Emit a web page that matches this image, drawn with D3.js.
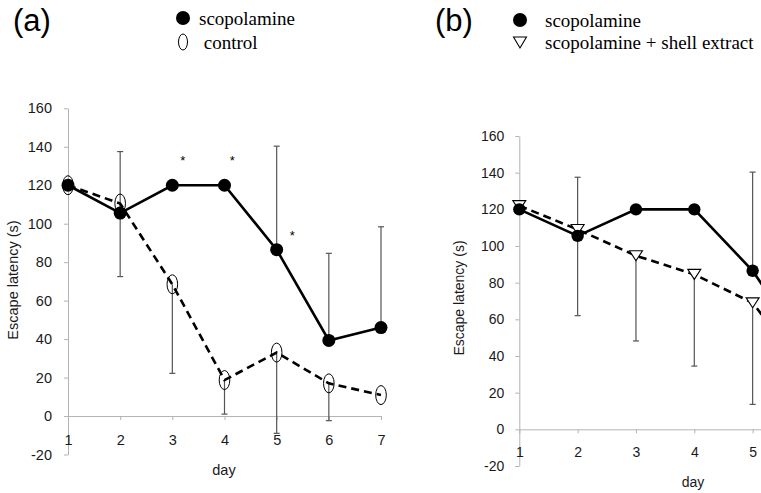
<!DOCTYPE html>
<html>
<head>
<meta charset="utf-8">
<script src="https://cdnjs.cloudflare.com/ajax/libs/d3/7.8.5/d3.min.js"></script>
<style>
  body { margin: 0; background: white; }
  svg { display: block; }
  .axis path, .axis line { stroke: #b3b3b3; stroke-width: 1; }
  .axis text { fill: #1a1a1a; }
</style>
</head>
<body>
<script>
var width = 761;
var height = 493;

var days = [1, 2, 3, 4, 5, 6, 7];
var yTicks = [-20, 0, 20, 40, 60, 80, 100, 120, 140, 160];

// scopolamine group (same in both panels), error bars drawn upward
var scopMean = [120, 105.5, 120, 120, 86.5, 39.3, 46];
var scopErrUp = [0, 32, 0, 0, 53.8, 45.3, 52.4];

// panel (a) control, error bars drawn downward
var controlMean = [120, 110.5, 68.5, 18.7, 33, 17, 10.9];
var controlErrDown = [0, 38, 46.3, 17.7, 42, 19.4, 0];

// panel (b) scopolamine + shell extract, error bars drawn downward
var shellMean = [122, 109, 94.7, 84.5, 69, 28, 22];
var shellErrDown = [0, 47, 46.5, 50, 55.4, 20, 15];

// significance stars in panel (a), in data units
var starDay = [3.2, 4.15, 5.3];
var starValue = [134, 134, 95];

var legendA = ["scopolamine", "\u00a0control"];
var legendB = ["scopolamine", "scopolamine + shell extract"];

var sansFont = "Liberation Sans";
var serifFont = "Liberation Serif";

const SVG = d3.select("body")
              .append("svg")
              .attr("width", width)
              .attr("height", height);

function makeSeries(mean, err, dir){
  return days.map(function(d, i){
    return {day: d, v: mean[i], e: err[i] * dir};
  });
}

function drawPanel(p){
  var x = d3.scaleLinear().domain([1, 7]).range(p.xRange);
  var y = d3.scaleLinear().domain([-20, 160]).range(p.yRange);
  var g = SVG.append("g");

  // axes
  g.append("g")
   .attr("class", "axis")
   .attr("transform", "translate(" + x(1) + ",0)")
   .call(d3.axisLeft(y).tickValues(yTicks).tickFormat((d) => String(d))
           .tickSize(4).tickSizeOuter(0).tickPadding(p.yPad))
   .attr("font-size", p.fontSize)
   .attr("font-family", sansFont);

  // only label the days that fall inside the picture
  g.append("g")
   .attr("class", "axis")
   .attr("transform", "translate(0," + y(0) + ")")
   .call(d3.axisBottom(x).tickValues(days.filter((d) => x(d) < width))
           .tickFormat(d3.format("d"))
           .tickSize(4).tickSizeOuter(0).tickPadding(p.xPad))
   .attr("font-size", p.fontSize)
   .attr("font-family", sansFont);

  g.append("text")
   .attr("transform", "translate(" + p.yTitle[0] + "," + p.yTitle[1] + ") rotate(-90)")
   .attr("text-anchor", "middle")
   .attr("dominant-baseline", "central")
   .attr("font-family", sansFont)
   .attr("font-size", p.fontSize)
   .attr("fill", "#1a1a1a")
   .text("Escape latency (s)");

  g.append("text")
   .attr("x", p.xTitle[0])
   .attr("y", p.xTitle[1])
   .attr("text-anchor", "middle")
   .attr("font-family", sansFont)
   .attr("font-size", p.fontSize)
   .attr("fill", "#1a1a1a")
   .text("day");

  var line = d3.line().x((d) => x(d.day)).y((d) => y(d.v));

  // error bars for every series first
  p.series.forEach(function(s){
    var bars = g.selectAll(null)
                .data(s.data.filter((d) => d.e !== 0))
                .enter()
                .append("g")
                .attr("stroke", "#555")
                .attr("stroke-width", 1.2);
    bars.append("line")
        .attr("x1", (d) => x(d.day))
        .attr("x2", (d) => x(d.day))
        .attr("y1", (d) => y(d.v))
        .attr("y2", (d) => y(d.v + d.e));
    bars.append("line")
        .attr("x1", (d) => x(d.day) - 3)
        .attr("x2", (d) => x(d.day) + 3)
        .attr("y1", (d) => y(d.v + d.e))
        .attr("y2", (d) => y(d.v + d.e));
  });

  // lines and markers, scopolamine drawn last so it sits on top
  p.series.forEach(function(s){
    g.append("path")
     .datum(s.data)
     .attr("d", line)
     .attr("fill", "none")
     .attr("stroke", "#000")
     .attr("stroke-width", 2.6)
     .attr("stroke-dasharray", s.dashed ? "8,5" : null);

    var m = g.selectAll(null)
             .data(s.data)
             .enter();
    if(s.marker == "circle"){
      m.append("circle")
       .attr("cx", (d) => x(d.day))
       .attr("cy", (d) => y(d.v))
       .attr("r", p.dotR)
       .attr("fill", "#000");
    } else if(s.marker == "ellipse"){
      m.append("ellipse")
       .attr("cx", (d) => x(d.day))
       .attr("cy", (d) => y(d.v))
       .attr("rx", 5.3)
       .attr("ry", 9.5)
       .attr("fill", "none")
       .attr("stroke", "#000")
       .attr("stroke-width", 1);
    } else {
      m.append("path")
       .attr("d", "M-6.5,-5L6.5,-5L0,5Z")
       .attr("transform", (d) => "translate(" + x(d.day) + "," + y(d.v) + ")")
       .attr("fill", "#fff")
       .attr("stroke", "#000")
       .attr("stroke-width", 1.1);
    }
  });

  // stars
  if(p.stars){
    g.selectAll(null)
     .data(p.stars)
     .enter()
     .append("text")
     .attr("x", (d) => x(d[0]))
     .attr("y", (d) => y(d[1]) + 7)
     .attr("text-anchor", "middle")
     .attr("font-family", sansFont)
     .attr("font-size", 13)
     .attr("fill", "#000")
     .text("*");
  }
}

drawPanel({
  xRange: [68, 381],
  yRange: [454.5, 108.3],
  fontSize: 14.5,
  yPad: 12,
  xPad: 15,
  dotR: 6.5,
  yTitle: [13, 280],
  xTitle: [224, 475],
  stars: starDay.map((d, i) => [d, starValue[i]]),
  series: [
    {data: makeSeries(controlMean, controlErrDown, -1), marker: "ellipse", dashed: true},
    {data: makeSeries(scopMean, scopErrUp, 1), marker: "circle", dashed: false}
  ]
});

drawPanel({
  xRange: [519.3, 869.3],
  yRange: [466, 136],
  fontSize: 14,
  yPad: 11,
  xPad: 13.5,
  dotR: 6.2,
  yTitle: [459, 298],
  xTitle: [693, 487],
  series: [
    {data: makeSeries(shellMean, shellErrDown, -1), marker: "triangle", dashed: true},
    {data: makeSeries(scopMean, scopErrUp, 1), marker: "circle", dashed: false}
  ]
});

// panel letters and legends
SVG.append("text").attr("x", 13).attr("y", 31)
   .attr("font-family", sansFont).attr("font-size", 31).text("(a)");
SVG.append("text").attr("x", 435).attr("y", 31)
   .attr("font-family", sansFont).attr("font-size", 31).text("(b)");

var legA = SVG.append("g");
legA.append("circle").attr("cx", 183).attr("cy", 18).attr("r", 7).attr("fill", "#000");
legA.append("ellipse").attr("cx", 183).attr("cy", 42).attr("rx", 4.5).attr("ry", 8)
    .attr("fill", "none").attr("stroke", "#000").attr("stroke-width", 1);
legA.selectAll(null)
    .data(legendA).enter()
    .append("text")
    .attr("x", 199)
    .attr("y", (d, i) => 25 + i * 24)
    .attr("font-family", serifFont)
    .attr("font-size", 19)
    .text((d) => d);

var legB = SVG.append("g");
legB.append("circle").attr("cx", 520).attr("cy", 20).attr("r", 7).attr("fill", "#000");
legB.append("path").attr("d", "M-6.5,-5L6.5,-5L0,6Z")
    .attr("transform", "translate(520,42)")
    .attr("fill", "#fff").attr("stroke", "#000").attr("stroke-width", 1.1);
legB.selectAll(null)
    .data(legendB).enter()
    .append("text")
    .attr("x", 545)
    .attr("y", (d, i) => 27 + i * 22)
    .attr("font-family", serifFont)
    .attr("font-size", 19)
    .text((d) => d);
</script>
</body>
</html>
